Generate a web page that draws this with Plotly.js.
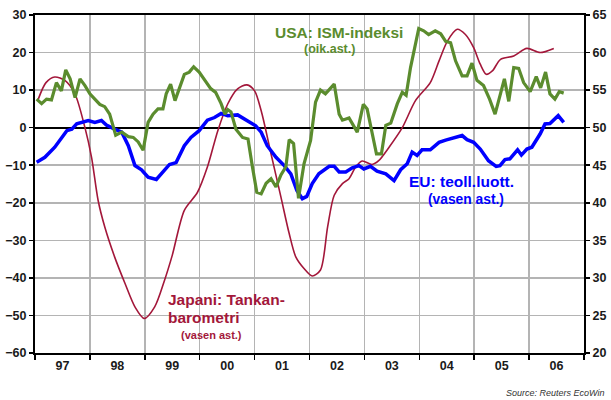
<!DOCTYPE html>
<html>
<head>
<meta charset="utf-8">
<script src="https://cdn.plot.ly/plotly-3.0.1.min.js"></script>
<style>html,body{margin:0;padding:0;background:#fff;}#chart{width:611px;height:400px;}</style>
</head>
<body>
<div id="chart"></div>
<script>
// Decimal-year time stamps and values
const japanX = [1997.06,1997.2,1997.36,1997.55,1997.73,1997.91,1998.03,1998.15,1998.27,1998.45,1998.64,1998.82,1998.99,1999.18,1999.36,1999.5,1999.72,1999.96,2000.14,2000.33,2000.51,2000.69,2000.86,2001.0,2001.12,2001.3,2001.48,2001.63,2001.75,2001.9,2002.05,2002.2,2002.33,2002.45,2002.6,2002.72,2002.84,2002.96,2003.14,2003.26,2003.45,2003.69,2003.93,2004.2,2004.36,2004.51,2004.69,2004.84,2004.99,2005.11,2005.22,2005.33,2005.48,2005.72,2005.96,2006.2,2006.45];
const japanY = [7.6,12,13.5,12.5,8.9,0,-7.9,-19.4,-26.4,-34.4,-41.5,-47.7,-50.8,-47.7,-40.6,-34,-22,-17.2,-10.5,-0.8,6.3,10.3,11.4,9.8,4.5,-7,-18.5,-28.2,-34.4,-37.5,-39.5,-37.9,-26.4,-18,-14.9,-13.6,-10.5,-8.9,-9.8,-8.8,-5.2,0,7.2,12,17.8,23,26.2,24.8,21.3,16.9,14.2,15.1,18.2,19.1,21.1,20,21.1];

const euX = [1997.03,1997.18,1997.36,1997.48,1997.58,1997.67,1997.76,1997.97,1998.09,1998.21,1998.3,1998.45,1998.58,1998.7,1998.82,1998.94,1999.06,1999.21,1999.33,1999.45,1999.57,1999.72,1999.84,1999.99,2000.14,2000.27,2000.39,2000.51,2000.69,2000.87,2001.02,2001.12,2001.23,2001.39,2001.54,2001.66,2001.77,2001.87,2001.95,2002.05,2002.17,2002.36,2002.45,2002.54,2002.66,2002.78,2002.9,2002.99,2003.11,2003.23,2003.39,2003.54,2003.66,2003.78,2003.87,2003.96,2004.05,2004.2,2004.36,2004.48,2004.63,2004.78,2004.87,2004.99,2005.11,2005.26,2005.4,2005.47,2005.56,2005.65,2005.79,2005.86,2005.96,2006.05,2006.2,2006.29,2006.38,2006.53,2006.63];
const euY = [-9.2,-7.9,-5.2,-3,-0.8,-0.4,1,1.9,1.4,1.9,0.7,-0.4,-1.2,-4.8,-10.1,-11.2,-13.2,-13.8,-11.8,-9.8,-9.3,-4.8,-2.6,-0.8,2,2.7,3.8,3.2,3.4,1.9,0.5,-1.2,-4.8,-7.9,-10.1,-12.3,-16.7,-18.9,-18.3,-14.9,-12.3,-10.3,-10.3,-11.8,-11.8,-10.7,-10.1,-11,-10.3,-11.6,-12.3,-14.1,-11.2,-9.6,-6.5,-7.4,-5.9,-5.9,-3.9,-3.3,-2.7,-2.1,-3.2,-3.9,-5.7,-8.8,-10.3,-10.1,-8.5,-8.3,-5.9,-7.3,-5.7,-5.2,-1.7,1,1.1,3.2,1.4];

const usX = [1997.03,1997.12,1997.21,1997.3,1997.39,1997.48,1997.56,1997.64,1997.73,1997.82,1997.91,1998.0,1998.09,1998.18,1998.27,1998.36,1998.47,1998.58,1998.7,1998.79,1998.88,1998.97,1999.06,1999.15,1999.24,1999.33,1999.39,1999.47,1999.55,1999.63,1999.72,1999.81,1999.89,1999.99,2000.08,2000.2,2000.29,2000.39,2000.46,2000.51,2000.57,2000.66,2000.78,2000.88,2000.96,2001.04,2001.12,2001.21,2001.3,2001.39,2001.48,2001.57,2001.63,2001.71,2001.8,2001.9,2002.02,2002.11,2002.2,2002.29,2002.45,2002.54,2002.6,2002.72,2002.87,2002.98,2003.05,2003.14,2003.22,2003.31,2003.39,2003.48,2003.6,2003.69,2003.76,2003.84,2003.93,2003.99,2004.08,2004.17,2004.29,2004.39,2004.48,2004.57,2004.66,2004.78,2004.87,2004.96,2005.05,2005.17,2005.28,2005.38,2005.46,2005.55,2005.63,2005.72,2005.81,2005.9,2006.02,2006.13,2006.21,2006.3,2006.38,2006.47,2006.55,2006.63];
const usY = [53.8,53.2,53.8,53.7,56.0,54.9,57.7,56.5,54.0,56.5,55.6,54.5,53.8,53.1,52.8,51.8,49.0,49.4,48.8,48.7,48.1,47.0,50.7,51.8,52.5,52.5,54.5,55.8,53.6,55.2,57.1,57.4,58.1,57.4,56.5,55.2,54.7,53.2,51.8,52.4,52.1,49.8,48.7,48.5,44.8,41.4,41.2,42.6,43.2,42.1,43.7,44.8,48.4,47.9,40.6,45.2,48.3,53.4,55.0,54.5,55.8,51.8,51.0,51.3,49.4,53.1,52.5,49.2,46.5,46.5,50.3,50.6,53.2,54.7,54.3,58.0,61.1,63.2,62.9,62.4,62.9,62.5,61.5,61.3,58.9,56.9,56.9,58.6,56.3,55.6,53.8,51.8,54.0,56.5,53.5,58.0,57.9,56.0,54.8,56.8,55.3,57.4,54.5,53.8,54.8,54.6];

const yearTickVals = [1997.5,1998.5,1999.5,2000.5,2001.5,2002.5,2003.5,2004.5,2005.5,2006.5];
const yearLabels = ['97','98','99','00','01','02','03','04','05','06'];

const FONT = 'Liberation Sans, Arial, sans-serif';
const RED = '#a3173a', GREEN = '#5b8c2e', BLUE = '#0000ff';

const traces = [
  {x: japanX, y: japanY, type: 'scatter', mode: 'lines', line: {color: RED, width: 1.6, shape: 'spline', smoothing: 0.8}, hoverinfo: 'skip'},
  {x: euX, y: euY, type: 'scatter', mode: 'lines', line: {color: BLUE, width: 3.5}, hoverinfo: 'skip'},
  {x: usX, y: usY, type: 'scatter', mode: 'lines', yaxis: 'y2', line: {color: GREEN, width: 3.2}, hoverinfo: 'skip'}
];

const tickFont = {family: FONT, size: 12.5, weight: 'bold', color: '#1a1a1a'};

const layout = {
  width: 611, height: 400,
  margin: {l: 35, r: 27, t: 15, b: 47, pad: 0},
  paper_bgcolor: '#fff', plot_bgcolor: '#fff',
  showlegend: false,
  xaxis: {
    range: [1997, 2007], tickmode: 'array', tickvals: yearTickVals, ticktext: yearLabels,
    ticks: '', showgrid: false, zeroline: false, tickfont: tickFont,
    showline: true, linecolor: '#000', linewidth: 2, mirror: true,
    minor: {tick0: 1997, dtick: 1, ticks: 'outside', ticklen: 5, tickwidth: 1.5, tickcolor: '#000',
            showgrid: true, gridcolor: '#b4b4b4', gridwidth: 1.5}
  },
  yaxis: {
    range: [-60, 30], dtick: 10, tick0: 0, ticks: 'outside', ticklen: 4, tickwidth: 1.5, tickcolor: '#000',
    showgrid: true, gridcolor: '#b4b4b4', gridwidth: 1.5,
    zeroline: true, zerolinecolor: '#000', zerolinewidth: 1.8,
    showline: true, linecolor: '#000', linewidth: 2, tickfont: tickFont
  },
  yaxis2: {
    range: [20, 65], dtick: 5, tick0: 20, overlaying: 'y', side: 'right',
    ticks: 'outside', ticklen: 4, tickwidth: 1.5, tickcolor: '#000',
    showgrid: false, zeroline: false, showline: true, linecolor: '#000', linewidth: 2, tickfont: tickFont
  },
  annotations: [
    {text: 'USA: ISM-indeksi', xref: 'paper', yref: 'paper', x: 0.554, y: 0.947, showarrow: false,
     xanchor: 'center', yanchor: 'middle', font: {family: FONT, size: 15.5, weight: 'bold', color: GREEN}},
    {text: '(oik.ast.)', xref: 'paper', yref: 'paper', x: 0.537, y: 0.899, showarrow: false,
     xanchor: 'center', yanchor: 'middle', font: {family: FONT, size: 12.5, weight: 'bold', color: GREEN}},
    {text: 'EU: teoll.luott.', xref: 'paper', yref: 'paper', x: 0.777, y: 0.506, showarrow: false,
     xanchor: 'center', yanchor: 'middle', font: {family: FONT, size: 15.5, weight: 'bold', color: BLUE}},
    {text: '(vasen ast.)', xref: 'paper', yref: 'paper', x: 0.785, y: 0.453, showarrow: false,
     xanchor: 'center', yanchor: 'middle', font: {family: FONT, size: 13.8, weight: 'bold', color: BLUE}},
    {text: 'Japani: Tankan-', xref: 'paper', yref: 'paper', x: 0.2386, y: 0.157, showarrow: false,
     xanchor: 'left', yanchor: 'middle', font: {family: FONT, size: 15.5, weight: 'bold', color: RED}},
    {text: 'barometri', xref: 'paper', yref: 'paper', x: 0.2386, y: 0.1036, showarrow: false,
     xanchor: 'left', yanchor: 'middle', font: {family: FONT, size: 15.5, weight: 'bold', color: RED}},
    {text: '(vasen ast.)', xref: 'paper', yref: 'paper', x: 0.322, y: 0.053, showarrow: false,
     xanchor: 'center', yanchor: 'middle', font: {family: FONT, size: 11, weight: 'bold', color: RED}},
    {text: 'Source: Reuters EcoWin', xref: 'paper', yref: 'paper', x: 1.04, y: -0.118, showarrow: false,
     xanchor: 'right', yanchor: 'middle', font: {family: FONT, size: 9, style: 'italic', color: '#333'}}
  ]
};

Plotly.newPlot('chart', traces, layout, {staticPlot: true, displayModeBar: false});
</script>
</body>
</html>
